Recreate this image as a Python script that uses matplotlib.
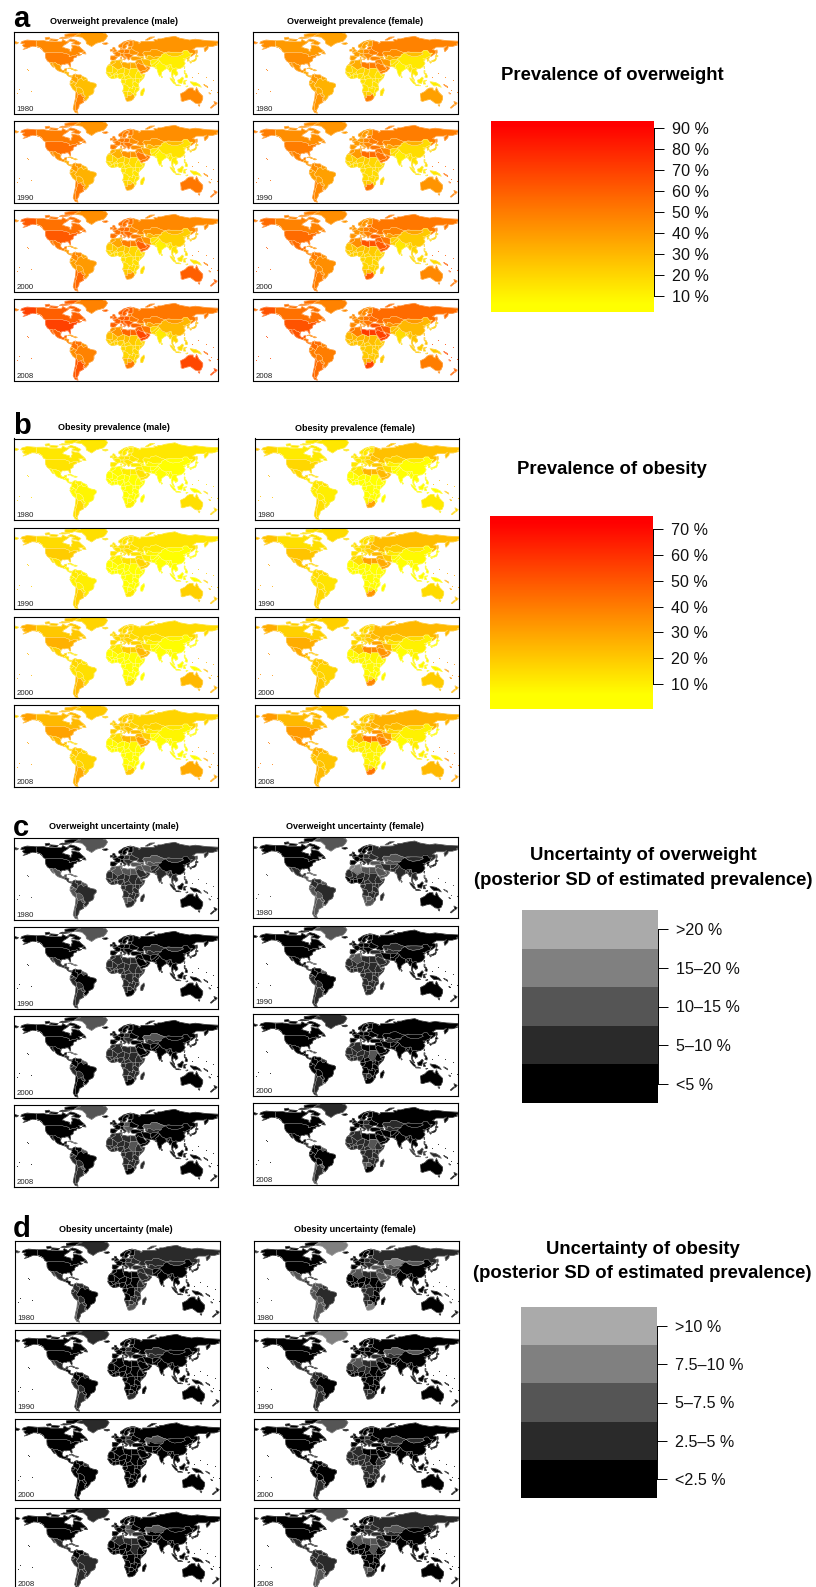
import numpy as np
import matplotlib
matplotlib.use("Agg")
import matplotlib.pyplot as plt
from matplotlib.collections import PolyCollection
from matplotlib.colors import LinearSegmentedColormap, Normalize

plt.rcParams['font.family'] = ['Liberation Sans', 'DejaVu Sans']

W, H = 816, 1587

years = [1980, 1990, 2000, 2008]

# value groups, same order as every row of the tables below
groups = ['can', 'usa', 'grn', 'mex', 'cam', 'car', 'cov', 'and', 'bra', 'par', 'chl', 'arg',
          'weu', 'ceu', 'rus', 'kaz', 'cas', 'mid', 'gul', 'irn', 'nfe', 'mag', 'sah', 'waf', 'caf', 'eaf', 'sud', 'nbo', 'zaf',
          'sas', 'pak', 'chn', 'mng', 'jpk', 'sea', 'idn', 'aus', 'nzl', 'oce']

# prevalence in percent
overweight_male = [
    [46, 50, 40, 38, 30, 28, 36, 28, 28, 30, 42, 48, 46, 48, 42, 38, 28, 38, 44, 30, 34, 28, 18, 14, 14, 14, 16, 18, 32, 9, 12, 12, 24, 20, 10, 10, 46, 50, 40],
    [50, 55, 42, 44, 34, 32, 40, 32, 32, 34, 48, 52, 50, 52, 44, 40, 30, 44, 52, 36, 42, 32, 20, 16, 15, 15, 18, 20, 36, 10, 14, 16, 28, 22, 12, 12, 52, 55, 46],
    [54, 62, 44, 52, 40, 36, 46, 38, 40, 40, 54, 58, 54, 56, 46, 42, 30, 50, 60, 42, 50, 36, 24, 18, 17, 17, 20, 24, 42, 11, 16, 22, 32, 24, 15, 14, 60, 62, 52],
    [60, 70, 48, 60, 46, 42, 54, 44, 48, 46, 62, 64, 60, 62, 52, 48, 36, 58, 68, 52, 58, 42, 28, 22, 20, 20, 24, 30, 52, 13, 20, 30, 40, 28, 20, 18, 68, 70, 60],
]
overweight_female = [
    [40, 44, 38, 42, 36, 36, 40, 34, 32, 34, 42, 42, 38, 44, 48, 44, 32, 46, 48, 40, 50, 34, 20, 16, 16, 16, 18, 22, 50, 10, 16, 14, 28, 20, 14, 12, 38, 46, 52],
    [44, 50, 42, 48, 42, 40, 44, 38, 38, 38, 48, 46, 40, 46, 50, 46, 36, 52, 54, 46, 56, 40, 22, 18, 18, 18, 20, 24, 54, 12, 18, 18, 32, 20, 16, 14, 42, 50, 58],
    [48, 56, 44, 56, 48, 44, 50, 44, 44, 44, 52, 50, 42, 48, 52, 48, 38, 58, 62, 52, 64, 44, 26, 22, 20, 20, 24, 28, 62, 14, 22, 24, 36, 20, 20, 18, 46, 54, 64],
    [54, 64, 48, 64, 54, 48, 56, 50, 50, 48, 58, 56, 46, 52, 56, 52, 42, 64, 70, 60, 72, 50, 30, 26, 24, 24, 28, 32, 70, 18, 28, 30, 40, 22, 26, 24, 50, 60, 70],
]
obesity_male = [
    [12, 13, 12, 9, 7, 7, 9, 7, 8, 8, 13, 15, 11, 13, 12, 10, 7, 10, 13, 8, 10, 7, 5, 4, 4, 4, 4, 5, 9, 3, 4, 4, 6, 4, 4, 4, 14, 16, 14],
    [15, 19, 14, 13, 9, 9, 11, 9, 10, 10, 16, 18, 13, 15, 13, 11, 8, 13, 17, 10, 13, 9, 5, 4, 4, 4, 5, 5, 11, 3, 4, 5, 7, 4, 4, 4, 18, 20, 18],
    [20, 26, 17, 18, 13, 12, 16, 13, 14, 13, 22, 24, 16, 18, 15, 13, 9, 18, 24, 14, 19, 11, 6, 5, 5, 5, 6, 6, 14, 3, 5, 6, 9, 5, 5, 4, 24, 26, 24],
    [24, 30, 20, 24, 16, 16, 20, 16, 17, 16, 26, 28, 19, 21, 17, 16, 11, 23, 30, 18, 24, 14, 7, 6, 6, 6, 7, 8, 20, 4, 6, 8, 12, 6, 6, 5, 28, 30, 30],
]
obesity_female = [
    [11, 16, 12, 16, 11, 14, 12, 10, 10, 10, 16, 14, 12, 16, 22, 17, 9, 20, 24, 15, 25, 12, 5, 5, 5, 5, 5, 8, 30, 3, 6, 5, 10, 5, 5, 4, 11, 16, 22],
    [14, 21, 15, 21, 15, 17, 15, 13, 13, 13, 19, 16, 14, 18, 23, 18, 11, 24, 28, 20, 30, 15, 6, 6, 6, 6, 6, 9, 33, 4, 7, 7, 12, 5, 6, 5, 15, 21, 28],
    [18, 27, 18, 28, 20, 21, 20, 17, 17, 16, 23, 20, 16, 20, 24, 20, 13, 30, 34, 25, 36, 19, 7, 8, 7, 7, 8, 11, 37, 5, 10, 9, 15, 5, 8, 7, 19, 25, 34],
    [24, 32, 21, 33, 25, 25, 26, 21, 21, 19, 26, 24, 19, 23, 26, 23, 16, 34, 38, 30, 42, 23, 9, 10, 8, 8, 10, 13, 42, 6, 12, 9, 16, 5, 10, 9, 24, 30, 40],
]

# posterior SD in percent, binned later into the legend classes
sd_overweight_male = [
    [3, 3, 12, 12, 7, 12, 7, 12, 7, 12, 12, 7, 3, 7, 7, 12, 12, 12, 7, 12, 12, 12, 7, 7, 7, 7, 7, 12, 7, 7, 7, 3, 7, 3, 7, 3, 3, 3, 7],
    [3, 3, 12, 7, 7, 12, 3, 7, 3, 7, 7, 7, 3, 3, 3, 7, 7, 3, 3, 3, 7, 7, 7, 7, 7, 7, 7, 7, 3, 3, 3, 3, 7, 3, 3, 3, 3, 3, 3],
    [3, 3, 12, 3, 7, 12, 3, 7, 3, 7, 3, 3, 3, 7, 3, 12, 7, 3, 3, 3, 7, 7, 7, 7, 7, 7, 7, 7, 3, 3, 3, 3, 3, 3, 3, 3, 3, 3, 3],
    [3, 3, 12, 3, 7, 12, 3, 7, 3, 12, 7, 7, 3, 12, 3, 12, 7, 3, 3, 3, 7, 7, 7, 7, 7, 7, 12, 7, 3, 3, 3, 3, 3, 3, 3, 3, 3, 3, 3],
]
sd_overweight_female = [
    [3, 3, 12, 7, 12, 12, 7, 12, 7, 12, 12, 12, 3, 7, 7, 12, 12, 12, 12, 7, 12, 17, 7, 3, 7, 7, 7, 12, 12, 7, 7, 3, 7, 3, 7, 3, 3, 3, 7],
    [3, 3, 12, 3, 7, 12, 3, 7, 3, 7, 7, 7, 3, 3, 3, 7, 7, 7, 7, 3, 7, 12, 7, 7, 7, 7, 7, 7, 7, 3, 3, 3, 7, 3, 3, 3, 3, 3, 3],
    [3, 3, 7, 3, 3, 7, 3, 3, 3, 3, 7, 7, 3, 3, 3, 3, 7, 3, 3, 3, 3, 7, 7, 7, 3, 3, 12, 7, 3, 3, 3, 3, 3, 3, 3, 3, 3, 3, 3],
    [3, 3, 7, 3, 7, 12, 3, 3, 3, 12, 12, 7, 3, 7, 3, 7, 7, 3, 3, 3, 3, 7, 7, 7, 7, 7, 12, 12, 3, 3, 3, 3, 3, 3, 3, 7, 3, 3, 3],
]
sd_obesity_male = [
    [1, 1, 3.5, 3.5, 1, 3.5, 3.5, 3.5, 1, 3.5, 6, 3.5, 1, 3.5, 3.5, 3.5, 3.5, 3.5, 3.5, 3.5, 1, 1, 1, 1, 1, 3.5, 1, 3.5, 6, 1, 1, 1, 3.5, 1, 1, 1, 1, 1, 1],
    [1, 1, 3.5, 3.5, 1, 3.5, 1, 3.5, 1, 1, 3.5, 3.5, 1, 3.5, 1, 3.5, 3.5, 1, 1, 1, 1, 1, 1, 1, 1, 1, 1, 1, 3.5, 1, 1, 1, 1, 1, 1, 1, 1, 1, 1],
    [1, 1, 3.5, 1, 1, 3.5, 1, 1, 1, 1, 1, 1, 1, 3.5, 1, 6, 1, 1, 1, 1, 1, 1, 1, 1, 1, 1, 1, 1, 1, 1, 1, 1, 1, 1, 1, 1, 1, 1, 1],
    [1, 1, 3.5, 3.5, 3.5, 3.5, 1, 3.5, 3.5, 3.5, 3.5, 3.5, 1, 6, 1, 6, 1, 3.5, 1, 1, 3.5, 3.5, 1, 1, 1, 1, 3.5, 1, 1, 1, 1, 1, 1, 1, 1, 1, 1, 1, 1],
]
sd_obesity_female = [
    [1, 1, 8.5, 6, 3.5, 3.5, 6, 6, 3.5, 6, 6, 6, 1, 3.5, 3.5, 8.5, 6, 6, 6, 3.5, 3.5, 6, 1, 1, 3.5, 1, 1, 3.5, 8.5, 1, 3.5, 1, 6, 1, 1, 1, 1, 1, 3.5],
    [1, 1, 8.5, 3.5, 3.5, 3.5, 3.5, 3.5, 1, 3.5, 3.5, 3.5, 1, 1, 1, 6, 3.5, 3.5, 1, 1, 3.5, 6, 3.5, 1, 1, 1, 1, 3.5, 3.5, 1, 1, 1, 6, 1, 1, 1, 1, 1, 1],
    [1, 1, 6, 1, 1, 3.5, 1, 1, 1, 3.5, 3.5, 3.5, 1, 3.5, 1, 3.5, 3.5, 1, 1, 1, 1, 3.5, 3.5, 3.5, 3.5, 3.5, 1, 3.5, 1, 1, 1, 1, 3.5, 1, 1, 1, 1, 1, 1],
    [1, 1, 6, 3.5, 3.5, 3.5, 3.5, 3.5, 3.5, 6, 6, 6, 1, 3.5, 3.5, 6, 3.5, 3.5, 3.5, 1, 6, 6, 1, 1, 1, 1, 6, 6, 3.5, 1, 1, 1, 1, 1, 1, 1, 1, 1, 1],
]

overweight_ticks = [10, 20, 30, 40, 50, 60, 70, 80, 90]
obesity_ticks = [10, 20, 30, 40, 50, 60, 70]
sd_overweight_labels = ['<5 %', '5\u201310 %', '10\u201315 %', '15\u201320 %', '>20 %']
sd_obesity_labels = ['<2.5 %', '2.5\u20135 %', '5\u20137.5 %', '7.5\u201310 %', '>10 %']
sd_overweight_cuts = [5, 10, 15, 20]
sd_obesity_cuts = [2.5, 5, 7.5, 10]
grey_classes = ['#000000', '#2a2a2a', '#555555', '#808080', '#aaaaaa']

# rough country outlines, lon/lat, each with its value group
outlines = [
    ('usa', [(-168, 65.5), (-166, 68.5), (-157, 71), (-141, 69.7), (-141, 60), (-135, 58.5), (-130, 55), (-134, 58), (-140, 60), (-148, 60.5), (-152, 59), (-158, 56.5), (-164, 54.7), (-158, 58.5), (-162, 59), (-165, 62), (-161, 64.5)]),
    ('can', [(-141, 69.7), (-128, 70), (-115, 68), (-108, 68), (-96, 68), (-94, 72), (-88, 68.5), (-82, 69), (-87, 65), (-93, 61.5), (-94.5, 58.7), (-88, 56.5), (-82, 55), (-82, 52), (-79, 51.5), (-79, 55), (-77, 57), (-78, 62.5), (-70, 61), (-65, 60), (-61, 56), (-56, 52), (-60, 50), (-66, 50), (-65, 48.5), (-64, 46), (-61, 46), (-66, 43.7), (-67, 45), (-70, 46), (-71, 45), (-75, 45), (-79, 43.3), (-83, 42), (-82, 45), (-84.5, 46.5), (-89, 48), (-95, 49), (-123, 49), (-128, 51), (-130, 55), (-135, 58.5), (-141, 60)]),
    ('can', [(-80, 73), (-72, 71), (-62, 66), (-66, 62.5), (-74, 64.5), (-78, 65), (-73, 68), (-85, 70)]),
    ('can', [(-117, 70), (-105, 69), (-102, 72), (-115, 73)]),
    ('can', [(-90, 76.5), (-78, 76.5), (-62, 82), (-72, 83), (-90, 81)]),
    ('can', [(-124, 72), (-116, 73), (-118, 76), (-125, 75)]),
    ('can', [(-100, 74), (-90, 74), (-82, 75), (-95, 76)]),
    ('can', [(-59, 47.7), (-53, 47), (-55, 51), (-58, 50)]),
    ('usa', [(-123, 49), (-95, 49), (-89, 48), (-84.5, 46.5), (-82, 45), (-83, 42), (-79, 43.3), (-75, 45), (-71, 45), (-70, 46), (-67, 45), (-70, 43), (-70, 41.5), (-74, 40.5), (-76, 37), (-75.5, 35.3), (-81, 32), (-80, 26), (-81, 25), (-82.8, 28), (-84, 30), (-89, 30), (-90, 29), (-94, 29.5), (-97, 27.5), (-97.3, 26), (-101, 29.5), (-103, 29), (-106.5, 31.8), (-111, 31.3), (-114.8, 32.5), (-117, 32.5), (-121, 35), (-124, 40), (-124.5, 47)]),
    ('grn', [(-73, 78), (-60, 76), (-53, 70), (-52, 65), (-43, 60), (-35, 65.5), (-22, 69), (-18, 73), (-15, 78), (-18, 82), (-30, 85), (-62, 85), (-70, 80)]),
    ('mex', [(-117, 32.5), (-114.8, 32.5), (-111, 31.3), (-106.5, 31.8), (-103, 29), (-101, 29.5), (-97.3, 26), (-97.8, 22), (-95, 18.5), (-91, 18.7), (-90.5, 21), (-87, 21.5), (-88, 18), (-91, 16), (-92, 14.6), (-96, 16), (-102, 18), (-105.5, 20.5), (-109, 26), (-113, 31), (-110, 24), (-112, 25), (-115, 29)]),
    ('cam', [(-92, 14.6), (-91, 16), (-88, 18), (-88, 16), (-83.3, 15), (-83.7, 11), (-82, 9), (-79.5, 9.5), (-77.3, 8.5), (-78, 7.3), (-80.5, 7.3), (-83, 8.3), (-85.7, 10), (-87.5, 13)]),
    ('car', [(-85, 22), (-80, 23), (-74.2, 20.2), (-77.5, 19.9), (-80, 21.8)]),
    ('car', [(-74.4, 18.5), (-72.5, 20), (-68.4, 18.7), (-71, 17.8)]),
    ('cov', [(-77.3, 8.5), (-75.5, 10.7), (-72, 12.2), (-72.3, 7.5), (-67.5, 6), (-67, 1.5), (-70, -4.2), (-72, -2.5), (-75.2, 0), (-79, 1.5), (-77.5, 4), (-78, 7.3)]),
    ('cov', [(-72, 12.2), (-68, 10.7), (-62, 10.7), (-60, 8.5), (-60.5, 5), (-64, 4), (-67, 1.5), (-67.5, 6), (-72.3, 7.5)]),
    ('car', [(-60, 8.5), (-52, 5), (-51.5, 4.2), (-54, 2.3), (-58, 1.5), (-60.5, 5)]),
    ('and', [(-79, 1.5), (-75.2, 0), (-75.5, -2), (-78.5, -4.5), (-80.5, -3.4), (-81, -1)]),
    ('and', [(-80.5, -3.4), (-78.5, -4.5), (-75.5, -2), (-75.2, 0), (-72, -2.5), (-70, -4.2), (-73, -7.5), (-70.5, -11), (-69, -12.5), (-69.5, -17.5), (-70.4, -18.3), (-76, -14), (-81.3, -5)]),
    ('and', [(-69, -11), (-65.5, -10), (-60, -13.5), (-58, -17), (-58, -20), (-62.5, -22), (-67, -22.8), (-69.5, -17.5), (-69, -12.5)]),
    ('bra', [(-60.5, 5), (-58, 1.5), (-54, 2.3), (-51.5, 4.2), (-50, 0), (-44, -2.5), (-38, -3.5), (-35, -5.5), (-35, -9), (-39, -13), (-39, -18), (-41, -22), (-48, -25.5), (-48.7, -28.5), (-53.5, -34), (-57.5, -30), (-54, -27), (-54.5, -25.5), (-58, -22), (-58, -17), (-60, -13.5), (-65.5, -10), (-69, -11), (-73, -7.5), (-70, -4.2), (-67, 1.5), (-64, 4)]),
    ('par', [(-58, -20), (-58, -22), (-54.5, -25.5), (-54.7, -26.8), (-58.5, -27.2), (-62.5, -22)]),
    ('chl', [(-70.4, -18.3), (-69.5, -17.5), (-67, -22.8), (-70, -33), (-71.5, -40), (-72, -50), (-68.5, -52.3), (-67, -55.5), (-72, -54), (-75.5, -48), (-73.5, -38), (-71.5, -30)]),
    ('arg', [(-67, -22.8), (-62.5, -22), (-58.5, -27.2), (-54.7, -26.8), (-57.5, -30), (-58.3, -34), (-57, -36.5), (-62, -39), (-65, -41), (-65.5, -45), (-69, -51), (-68.5, -52.3), (-72, -50), (-71.5, -40), (-70, -33)]),
    ('arg', [(-57.5, -30), (-53.5, -34), (-58.3, -34)]),
    ('weu', [(-9, 43.5), (-2, 43.5), (3, 42.3), (0, 39), (-2, 36.8), (-5.5, 36), (-9, 37), (-9.5, 39)]),
    ('weu', [(-2, 43.5), (-1, 46), (-4.5, 48.3), (2, 51), (8, 49), (7.5, 44), (3, 42.3)]),
    ('weu', [(2, 51), (4, 52), (7, 53.7), (9, 54.8), (14, 54), (15, 51), (13, 48.5), (8, 47.6), (8, 49)]),
    ('weu', [(7.5, 44), (8, 47.6), (13, 47), (13.5, 45.7), (12.3, 44.3), (18.3, 40), (16, 38), (15, 40), (10, 43.5)]),
    ('weu', [(12.5, 38), (15.5, 38.2), (15, 36.7)]),
    ('weu', [(8.3, 41), (9.7, 41), (9.5, 39), (8.5, 39)]),
    ('weu', [(-5.5, 50), (1.5, 51.2), (1.7, 52.7), (-1.5, 55), (-2, 57.6), (-5, 58.6), (-6, 56), (-3, 54), (-5, 52)]),
    ('weu', [(-10, 52), (-6, 52.2), (-6, 55), (-10, 54.3)]),
    ('weu', [(-24, 65.5), (-22, 64), (-18, 63.4), (-14, 65), (-16, 66.4)]),
    ('weu', [(5, 59), (8, 58), (11, 59), (12, 63), (15, 66), (20, 69), (29, 70), (31, 70), (25, 71), (14, 68), (5, 62)]),
    ('weu', [(11, 59), (13, 55.5), (16, 56.5), (19, 60), (17, 62), (24, 66), (20, 69), (15, 66), (12, 63)]),
    ('weu', [(24, 66), (21, 62), (23, 60), (30, 61), (30, 65), (29, 70), (20, 69)]),
    ('weu', [(8, 55), (8.5, 57.5), (10.7, 56), (10, 55)]),
    ('ceu', [(14, 54), (19, 54.5), (23.5, 54), (24, 50.5), (22, 48.5), (22.5, 48), (17, 48), (13, 48.5), (15, 51)]),
    ('ceu', [(13.5, 45.7), (17, 48), (22.5, 48), (28, 45.5), (29.5, 45), (28, 42), (26, 41), (23.5, 40), (24, 38), (22, 36.5), (19.5, 41)]),
    ('rus', [(23.5, 54), (28, 56), (32, 53), (40, 49.5), (38, 47), (33, 46), (29.5, 45), (28, 45.5), (22.5, 48), (24, 50.5)]),
    ('rus', [(21, 55), (21.5, 57.5), (24, 59.3), (28, 59.5), (28, 56), (23.5, 54)]),
    ('rus', [(28, 59.5), (30, 61), (30, 65), (31, 70), (41, 67), (40, 65), (44, 66.5), (44, 68.5), (54, 68.5), (68, 69), (67, 72), (73, 71), (74, 73), (80, 73), (87, 75), (104, 77.5), (113, 74), (130, 71), (140, 72.5), (160, 70), (170, 69.5), (180, 69), (180, 65), (177, 64.5), (179, 62.5), (170, 60), (163, 60), (162, 56), (157, 51), (155.5, 56), (160, 61), (155, 59), (142, 59), (135, 54.5), (141, 53), (140, 48), (133, 43), (131, 43), (131, 45), (135, 48.5), (130, 48), (126, 53), (120, 53), (117, 49.7), (107, 50), (98, 50), (92, 51), (87, 49), (80, 51), (71, 55), (62, 54), (60, 51), (50, 51.5), (47, 48), (49, 46), (47.5, 42), (40, 43.5), (37, 45), (38, 47), (40, 49.5), (32, 53), (28, 56)]),
    ('rus', [(-180, 69), (-172, 66.5), (-175, 64.5), (-180, 65)]),
    ('rus', [(52, 71), (56, 71), (68, 76.5), (60, 76)]),
    ('rus', [(142, 46), (143.5, 50), (143, 54), (142, 53)]),
    ('kaz', [(47, 48), (50, 51.5), (60, 51), (62, 54), (71, 55), (80, 51), (87, 49), (80, 45), (80, 42.5), (71, 42.5), (66, 41), (61, 44), (56, 45), (56, 41.5), (52, 42), (51, 45), (49, 46)]),
    ('cas', [(52, 42), (56, 41.5), (56, 45), (61, 44), (66, 41), (71, 42.5), (80, 42.5), (74, 39), (71, 36.7), (66, 37.3), (61, 36), (54, 37.3), (53, 40)]),
    ('cas', [(40, 43.5), (47.5, 42), (49.5, 40), (48, 38.5), (44.5, 39.7), (41.5, 41.5)]),
    ('mid', [(26, 41), (28, 42), (35, 42), (41.5, 41.5), (44.5, 39.7), (44.5, 37), (36, 36.5), (30, 36.2), (27, 37)]),
    ('mid', [(36, 36.5), (44.5, 37), (46, 35), (48, 30), (46.5, 29), (44, 29.2), (39, 32), (37, 29.5), (35, 29.5), (34.3, 31.3), (36, 35)]),
    ('gul', [(35, 28), (37, 29.5), (39, 32), (44, 29.2), (46.5, 29), (48.5, 28), (50, 25), (52, 24), (55.5, 22), (52, 19), (44, 17), (42.8, 16.5), (39, 21), (36.5, 25)]),
    ('gul', [(42.8, 16.5), (44, 17), (52, 19), (55.5, 22), (52, 24), (56, 26), (59.8, 22.5), (55, 17), (45, 13), (43.3, 12.7)]),
    ('irn', [(44.5, 39.7), (48, 38.5), (49, 37.5), (54, 37.3), (61, 36), (61, 31), (62.5, 25.5), (57, 26), (52, 27.5), (48.7, 30), (46, 35), (44.5, 37)]),
    ('pak', [(61, 36), (66, 37.3), (71, 36.7), (74.5, 37), (70, 33), (66, 29.5), (61, 29.5), (61, 31)]),
    ('pak', [(61, 29.5), (66, 29.5), (70, 33), (74.5, 37), (77, 35), (74.5, 31), (70, 27.5), (71, 24), (67, 24.5), (62.5, 25.5), (61, 31)]),
    ('sas', [(74.5, 31), (77, 35), (79, 32.5), (81, 30), (88, 27), (96, 28.5), (94, 24), (92, 23), (90, 25.5), (88, 26), (88.8, 21.7), (85, 19.5), (80, 15.5), (80, 12), (77.5, 8), (75, 12), (73, 19), (72.5, 21), (69, 22.5), (71, 24), (70, 27.5)]),
    ('sas', [(88, 26), (90, 25.5), (92, 23), (92, 21), (88.8, 21.7)]),
    ('sas', [(80, 9.5), (82, 7), (80.5, 6)]),
    ('chn', [(74, 39), (80, 42.5), (80, 45), (87, 49), (92, 45), (100, 42.5), (111, 43.5), (119, 47), (116, 50), (120, 53), (126, 53), (130, 48), (135, 48.5), (131, 45), (131, 43), (127, 41.5), (124, 40), (121.5, 39), (118, 39), (122.5, 37), (119.5, 35), (122, 31), (119, 25.5), (114, 22.3), (108.5, 21.5), (106, 23), (102, 22), (98, 24), (98, 28), (96, 28.5), (88, 27), (81, 30), (79, 32.5), (77, 35), (74.5, 37)]),
    ('mng', [(87, 49), (98, 50), (107, 50), (117, 49.7), (119, 47), (111, 43.5), (100, 42.5), (92, 45)]),
    ('jpk', [(124, 40), (127, 41.5), (131, 43), (128, 38), (129.3, 35.5), (126.3, 34.5), (126, 37.5)]),
    ('jpk', [(131, 34), (136, 35.7), (140, 38), (141, 41), (142, 39), (140.5, 35.5), (136, 33.7)]),
    ('jpk', [(140, 42), (141.5, 45.3), (145, 43.5), (143, 42)]),
    ('jpk', [(130, 33.5), (134, 34), (132, 31)]),
    ('chn', [(120.2, 23), (121.5, 25), (121, 22)]),
    ('sea', [(92, 21), (94, 24), (96, 28.5), (98, 28), (98, 24), (100, 21), (97.7, 18), (98.5, 12), (97.5, 16.5), (95, 16), (94, 18.5)]),
    ('sea', [(100, 21), (102, 22), (106, 23), (108.5, 21.5), (105.8, 19), (109, 14), (109, 11.5), (105, 8.7), (105, 10.5), (101, 13), (100, 8), (103, 2), (103.5, 1.3), (101, 3), (98.5, 8), (98.5, 12), (97.7, 18)]),
    ('idn', [(95.3, 5.5), (98, 4), (104, -2), (106, -6), (102, -4), (97, 2)]),
    ('idn', [(105.5, -6.5), (111, -6.5), (114.5, -8), (106, -7.7)]),
    ('idn', [(109, 1.5), (113, 3), (117, 7), (119, 5), (117.5, 1), (116, -4), (110, -3)]),
    ('idn', [(119.5, -5), (119.5, 0.5), (125, 1.5), (121, -1), (123, -5)]),
    ('idn', [(124, -10), (127, -8.5), (123.5, -9)]),
    ('sea', [(120.5, 18.5), (122, 18), (121.5, 14), (124, 13), (126, 9), (125.5, 6), (122, 7), (123, 11), (120.5, 14)]),
    ('idn', [(131, -1), (141, -2.6), (147, -6), (150.5, -10.5), (144, -7.8), (138, -8.2), (133, -4)]),
    ('aus', [(114, -22), (122, -18), (126, -14), (130, -12), (136, -12), (136, -15), (140, -17.5), (142, -11), (146, -19), (153, -26), (153, -31), (150, -37.5), (146, -39), (140, -38), (136, -35), (131, -31.5), (124, -33), (118, -35), (115, -34), (115, -30)]),
    ('aus', [(145, -41), (148, -41), (147, -43.5)]),
    ('nzl', [(173, -35), (178.5, -38), (175.5, -41.5), (174, -39)]),
    ('nzl', [(172.5, -40.7), (174, -41.8), (168, -46.8), (166.5, -46)]),
    ('oce', [(155, -6), (161, -9), (162, -11), (157, -8)]),
    ('oce', [(164, -20), (167, -22), (165, -22)]),
    ('mag', [(-6, 35.8), (-2, 35), (-1.2, 32), (-8.7, 28), (-13, 27.7), (-10, 30), (-9.5, 32.5)]),
    ('sah', [(-13, 27.7), (-8.7, 28), (-8.7, 27), (-4.8, 25), (-6.5, 25), (-5.5, 15.5), (-12, 14.8), (-16.5, 16), (-17, 21), (-15, 26)]),
    ('mag', [(-2, 35), (9, 37), (8.5, 32), (9.8, 30), (12, 23.5), (3.3, 19), (-4.8, 25), (-8.7, 27), (-1.2, 32)]),
    ('mag', [(9, 37), (11, 37), (10, 34), (11.5, 32.5), (9.8, 30), (8.5, 32)]),
    ('nfe', [(11.5, 32.5), (15, 32.3), (20, 31), (25, 31.5), (25, 20), (24, 19.5), (15, 23), (12, 23.5), (9.8, 30)]),
    ('nfe', [(25, 31.5), (34.3, 31.3), (35, 28), (36.8, 22), (25, 22)]),
    ('sud', [(24, 19.5), (25, 20), (25, 22), (36.8, 22), (38.5, 18), (36.5, 14.5), (34, 9.5), (35, 4.5), (30, 3.7), (24, 9), (22, 12.7), (24, 15)]),
    ('sah', [(15, 23), (24, 19.5), (24, 15), (22, 12.7), (22, 11), (15.5, 7.5), (14, 12.7), (13.5, 14), (15.5, 16)]),
    ('sah', [(12, 23.5), (15, 23), (15.5, 16), (13.5, 14), (8, 13), (3.5, 11.8), (1, 14.5), (3.3, 19)]),
    ('sah', [(-4.8, 25), (3.3, 19), (1, 14.5), (-3, 13.5), (-5.5, 10.5), (-8, 10.3), (-12, 14.8), (-5.5, 15.5), (-6.5, 25)]),
    ('waf', [(-16.5, 16), (-12, 14.8), (-8, 10.3), (-8.5, 7.5), (-13, 8), (-15, 11), (-17.5, 14.7)]),
    ('waf', [(-3, 13.5), (1, 14.5), (3.5, 11.8), (0, 11), (-5.5, 10.5)]),
    ('waf', [(-8.5, 7.5), (-8, 10.3), (-5.5, 10.5), (-3, 10), (-3, 5), (-7.5, 4.3), (-11.5, 6.8), (-13, 8)]),
    ('waf', [(-3, 5), (-3, 11), (0, 11), (3.5, 11.8), (2.7, 6.3), (1, 5.8)]),
    ('waf', [(2.7, 6.3), (3.5, 11.8), (8, 13), (13.5, 14), (14, 12.7), (12, 7), (9, 4.5), (6, 4.3), (4, 6.3)]),
    ('caf', [(9, 4.5), (12, 7), (14, 12.7), (15.5, 7.5), (16, 2), (9.8, 2.3)]),
    ('caf', [(15.5, 7.5), (22, 11), (24, 9), (27, 5), (19, 3.5), (16, 2)]),
    ('caf', [(9.8, 2.3), (16, 2), (18, 3.5), (16, -3.5), (12, -5), (9, -1)]),
    ('caf', [(18, 3.5), (19, 3.5), (27, 5), (30, 3.7), (31, 1), (29.5, -4), (30.5, -8), (28.5, -9), (29.5, -13), (24, -11), (22, -11), (20, -7), (13, -6), (12, -5), (16, -3.5)]),
    ('caf', [(12, -5), (13, -6), (20, -7), (22, -11), (24, -11), (22, -16.5), (23.5, -18), (12, -17.3), (13.8, -11)]),
    ('eaf', [(22, -16.5), (24, -11), (29.5, -13), (28.5, -9), (33, -9.5), (35, -14), (33, -16), (33, -20), (30, -22.3), (26, -18), (23.5, -18)]),
    ('nbo', [(12, -17.3), (23.5, -18), (20, -18.5), (20, -28.5), (16.5, -28.5), (14.5, -22.5)]),
    ('nbo', [(20, -18.5), (23.5, -18), (26, -18), (29, -22), (25.5, -25.7), (20, -24.7)]),
    ('zaf', [(16.5, -28.5), (20, -28.5), (20, -24.7), (25.5, -25.7), (29, -22), (31.5, -22.5), (32.8, -27), (30, -31.5), (26, -34), (20, -34.8), (18.3, -34)]),
    ('eaf', [(35, -14), (35, -11.5), (40.5, -10.5), (40.5, -15), (35, -20), (35.5, -24), (32.8, -27), (31.5, -22.5), (30, -22.3), (33, -20), (33, -16)]),
    ('eaf', [(29.5, -4), (31, -1), (34, -1), (37.7, -3.5), (39.3, -4.7), (39.5, -8), (40.5, -10.5), (35, -11.5), (33, -9.5), (28.5, -9), (30.5, -8)]),
    ('eaf', [(30, 3.7), (35, 4.5), (34, -1), (31, -1), (29.5, -3)]),
    ('eaf', [(35, 4.5), (41, 3.8), (41, -1.7), (39.3, -4.7), (37.7, -3.5), (34, -1)]),
    ('eaf', [(36.5, 14.5), (38.5, 18), (43.3, 12.7), (43, 11), (48, 8), (45, 5), (41, 3.8), (35, 4.5), (34, 9.5)]),
    ('eaf', [(43, 11), (51, 12), (49, 6), (41.5, -1.7), (41, 3.8), (45, 5), (48, 8)]),
    ('eaf', [(49.3, -12), (50.3, -16), (47, -25), (44, -25), (43.5, -21), (44.5, -16.5)]),
]

# small Pacific islands, drawn as dots in the Oceania value
island_lon = [-155.5, -157, -172, -150, 178, -175, 167, 172, 158, 145, 134]
island_lat = [19.5, 21, -14, -17, -18, -21, -16, 2, 7, 14, 7]

heat = LinearSegmentedColormap.from_list('heat', ['#ffff00', '#ff0000'])
overweight_norm = Normalize(6, 92)
obesity_norm = Normalize(5.5, 72.5)


def px_rect(x0, y0, x1, y1):
    return [x0 / W, 1 - y1 / H, (x1 - x0) / W, (y1 - y0) / H]


def draw_map(ax, values, year, to_color, border):
    polys = [pts for g, pts in outlines]
    colors = [to_color(values[groups.index(g)]) for g, pts in outlines]
    # a same-colour edge first so the thin borders do not eat the coast
    ax.add_collection(PolyCollection(polys, facecolors=colors, edgecolors=colors, linewidths=0.55))
    ax.add_collection(PolyCollection(polys, facecolors='none', edgecolors=border, linewidths=0.16))
    ax.scatter(island_lon, island_lat, s=0.35, linewidths=0, color=to_color(values[groups.index('oce')]))
    ax.set_xlim(-180, 180)
    ax.set_ylim(-56, 85)
    ax.set_xticks([])
    ax.set_yticks([])
    for s in ax.spines.values():
        s.set_linewidth(0.8)
    ax.text(0.012, 0.012, str(year), transform=ax.transAxes, fontsize=5.6, color='#222222', va='bottom')


def heat_color(norm):
    return lambda v: heat(norm(v))


def grey_color(cuts):
    return lambda v: grey_classes[int(np.digitize(v, cuts))]


def draw_block(male, female, to_color, border, left_x, right_x, left_y, right_y):
    for i, year in enumerate(years):
        ax = fig.add_axes(px_rect(left_x[0], left_y[i], left_x[1], left_y[i] + 81.5))
        draw_map(ax, male[i], year, to_color, border)
        ax = fig.add_axes(px_rect(right_x[0], right_y[i], right_x[1], right_y[i] + 81.5))
        draw_map(ax, female[i], year, to_color, border)


def style_legend_axis(ax, ticks, labels):
    ax.set_xticks([])
    ax.yaxis.tick_right()
    ax.set_yticks(ticks)
    ax.set_yticklabels(labels, fontsize=11.6, color='#111111')
    ax.tick_params(axis='y', length=7.5, width=0.7, pad=5.5)
    for name in ['top', 'left', 'bottom']:
        ax.spines[name].set_visible(False)
    ax.spines['right'].set_bounds(ticks[0], ticks[-1])
    ax.spines['right'].set_linewidth(0.7)


def gradient_legend(rect, low, high, ticks, norm):
    ax = fig.add_axes(px_rect(*rect))
    grad = np.linspace(low, high, 256).reshape(-1, 1)
    ax.imshow(grad, origin='lower', aspect='auto', cmap=heat, norm=norm, extent=[0, 1, low, high])
    style_legend_axis(ax, ticks, [f'{t} %' for t in ticks])


def class_legend(rect, labels):
    ax = fig.add_axes(px_rect(*rect))
    ax.bar([0.5] * 5, [1] * 5, width=1, bottom=range(5), color=grey_classes)
    ax.set_xlim(0, 1)
    ax.set_ylim(0, 5)
    style_legend_axis(ax, [0.5, 1.5, 2.5, 3.5, 4.5], labels)


def px_text(x, y, s, **kw):
    fig.text(x / W, 1 - y / H, s, **kw)


fig = plt.figure(figsize=(W / 100, H / 100), dpi=100)

draw_block(overweight_male, overweight_female, heat_color(overweight_norm), '#fff3d0',
           (14, 218), (253, 458), [32, 121, 210, 299], [32, 121, 210, 299])
draw_block(obesity_male, obesity_female, heat_color(obesity_norm), '#fffbd0',
           (14, 218), (255, 459), [438.5, 527.5, 616.5, 705.5], [438.5, 527.5, 616.5, 705.5])
draw_block(sd_overweight_male, sd_overweight_female, grey_color(sd_overweight_cuts), '#cccccc',
           (14, 218), (253, 458), [838, 927, 1016, 1105], [836.7, 925.7, 1014.3, 1103])
draw_block(sd_obesity_male, sd_obesity_female, grey_color(sd_obesity_cuts), '#cccccc',
           (15.3, 220), (254, 459), [1241, 1330, 1418.5, 1507.7], [1241, 1330, 1418.5, 1507.7])

panel_titles = [
    (114, 21.7, 'Overweight prevalence (male)'), (355, 22, 'Overweight prevalence (female)'),
    (114, 427.7, 'Obesity prevalence (male)'), (355, 428.3, 'Obesity prevalence (female)'),
    (114, 826.7, 'Overweight uncertainty (male)'), (355, 826, 'Overweight uncertainty (female)'),
    (116, 1229, 'Obesity uncertainty (male)'), (354.5, 1230, 'Obesity uncertainty (female)'),
]
for x, y, s in panel_titles:
    px_text(x, y, s, fontsize=6.5, fontweight='bold', ha='center', va='center')

for y, s in [(27, 'a'), (434, 'b'), (835.7, 'c'), (1237, 'd')]:
    px_text(13, y, s, fontsize=21, fontweight='bold', ha='left', va='baseline')

gradient_legend((491, 121, 653.7, 311.7), 2.35, 93.5, overweight_ticks, overweight_norm)
gradient_legend((490, 516, 652.7, 709.5), 0.1, 75.2, obesity_ticks, obesity_norm)
class_legend((522, 910, 657.7, 1103), sd_overweight_labels)
class_legend((521, 1307, 656.7, 1498), sd_obesity_labels)

px_text(612, 75, 'Prevalence of overweight', fontsize=13.35, fontweight='bold', ha='center', va='center')
px_text(612, 469.4, 'Prevalence of obesity', fontsize=13.35, fontweight='bold', ha='center', va='center')
px_text(643.5, 856, 'Uncertainty of overweight', fontsize=13.35, fontweight='bold', ha='center', va='center')
px_text(643.5, 880, '(posterior SD of estimated prevalence)', fontsize=13.35, fontweight='bold', ha='center', va='center')
px_text(642.5, 1250, 'Uncertainty of obesity', fontsize=13.35, fontweight='bold', ha='center', va='center')
px_text(642.5, 1273, '(posterior SD of estimated prevalence)', fontsize=13.35, fontweight='bold', ha='center', va='center')

fig.savefig('out.png', dpi=100)
